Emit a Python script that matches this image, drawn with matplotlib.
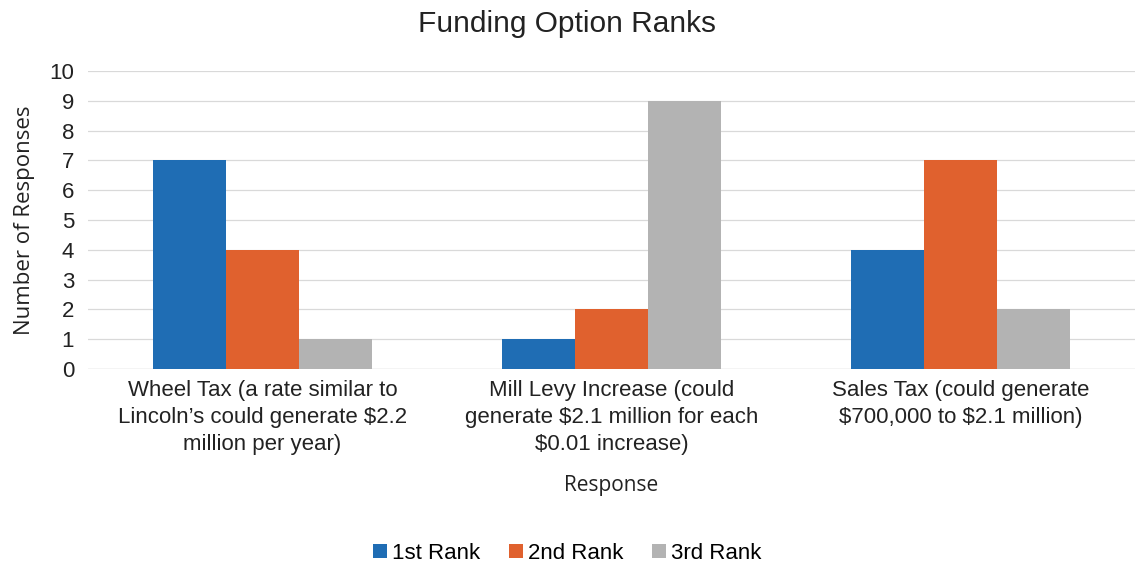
import matplotlib.pyplot as plt
import numpy as np

categories = [
    "Wheel Tax (a rate similar to\nLincoln\u2019s could generate \\$2.2\nmillion per year)",
    "Mill Levy Increase (could\ngenerate \\$2.1 million for each\n\\$0.01 increase)",
    "Sales Tax (could generate\n\\$700,000 to \\$2.1 million)",
]
series_names = ["1st Rank", "2nd Rank", "3rd Rank"]
rank1 = [7, 1, 4]
rank2 = [4, 2, 7]
rank3 = [1, 9, 2]
colors = ["#1f6db4", "#e0612e", "#b3b3b3"]


def plot_data():
    fig = plt.figure(figsize=(11.35, 5.69), dpi=100)
    ax = fig.add_axes([0.0775, 0.3515, 0.9225, 0.5237])

    x = np.arange(len(categories))
    width = 0.21
    for i, (vals, name) in enumerate(zip([rank1, rank2, rank3], series_names)):
        ax.bar(x + (i - 1) * width, vals, width, color=colors[i], label=name, zorder=3)

    ax.set_xlim(-0.5, 2.5)
    ax.set_ylim(0, 10)
    ax.set_yticks(range(0, 11))
    ax.grid(axis="y", color="#d9d9d9", linewidth=0.9, zorder=0)
    for s in ax.spines.values():
        s.set_visible(False)
    ax.axhline(0, color="#d0d0d0", linewidth=0.9, zorder=2)

    ax.set_xticks(x)
    ax.set_xticklabels(categories, fontsize=16, family="Liberation Sans", linespacing=1.38)
    ax.tick_params(axis="both", length=0, labelsize=16, colors="#222222")
    ax.tick_params(axis="x", pad=8)
    ax.tick_params(axis="y", pad=10)
    for lbl in ax.get_yticklabels():
        lbl.set_family("Liberation Sans")

    ax.set_ylabel("Number of Responses", fontsize=16, family="Open Sans", color="#222222", labelpad=10)
    ax.set_xlabel("Response", fontsize=15, family="Open Sans", color="#222222", labelpad=14)

    fig.text(0.5, 0.958, "Funding Option Ranks", ha="center", va="center",
             fontsize=21.5, family="Liberation Sans", color="#222222")

    fig.legend(loc="center", bbox_to_anchor=(0.5, 0.027), ncol=3, frameon=False,
               prop={"family": "Liberation Sans", "size": 16}, handlelength=0.6,
               handleheight=0.6, handletextpad=0.25, columnspacing=1.3)

    fig.savefig("out.png", dpi=100)


if __name__ == '__main__':
    plot_data()
